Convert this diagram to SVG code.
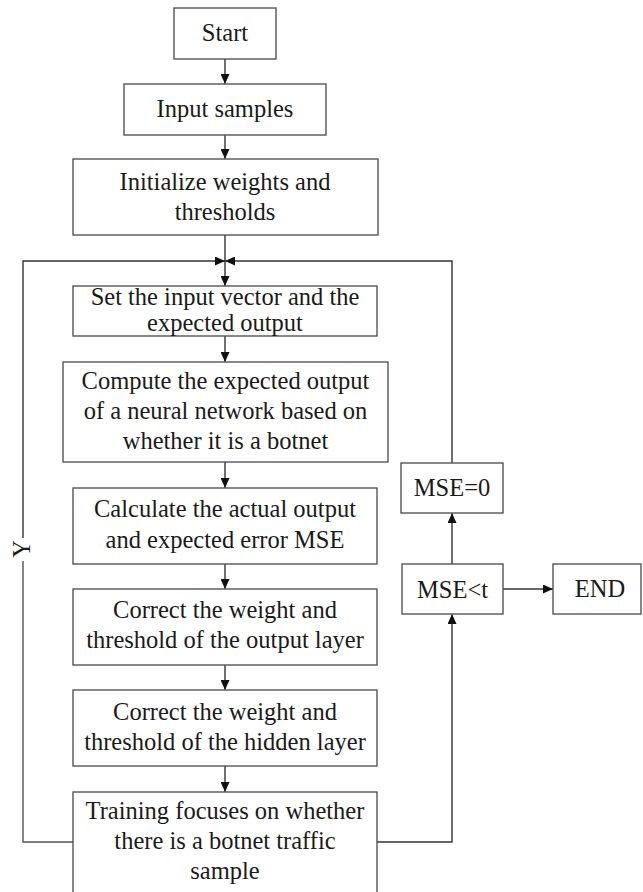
<svg xmlns="http://www.w3.org/2000/svg" width="643" height="892" viewBox="0 0 643 892">
<defs>
<marker id="ah" markerUnits="userSpaceOnUse" markerWidth="10" markerHeight="9" refX="10" refY="4.5" orient="auto">
<path d="M0,0 L10,4.5 L0,9 z" fill="#111"/>
</marker>
<style>
.box{fill:#fff;stroke:#555;stroke-width:1.4}
.t{font-family:"Liberation Serif","Times New Roman",serif;font-size:24.5px;fill:#1a1a1a;text-anchor:middle}
.c{fill:none;stroke:#555;stroke-width:1.4}
.a{fill:none;stroke:#333;stroke-width:1.4;marker-end:url(#ah)}
</style>
</defs>
<rect width="643" height="892" fill="#fff"/>
<g id="connectors">
<line class="a" x1="225" y1="59" x2="225" y2="84"/>
<line class="a" x1="225" y1="135" x2="225" y2="159"/>
<line class="a" x1="225" y1="235" x2="225" y2="286"/>
<line class="a" x1="225" y1="336" x2="225" y2="362"/>
<line class="a" x1="225" y1="462" x2="225" y2="488"/>
<line class="a" x1="225" y1="564" x2="225" y2="589"/>
<line class="a" x1="225" y1="665" x2="225" y2="690"/>
<line class="a" x1="225" y1="766" x2="225" y2="792"/>
<polyline class="c" points="73,842 23,842 23,561"/>
<polyline class="a" points="23,538 23,261 225,261"/>
<polyline class="a" points="452,463 452,261 225,261"/>
<polyline class="a" points="377,842 452,842 452,614"/>
<line class="a" x1="452" y1="564" x2="452" y2="513"/>
<line class="a" x1="503" y1="589" x2="553" y2="589"/>
<text class="t" transform="translate(30,549) rotate(-90)">Y</text>
</g>
<g id="start"><rect class="box" x="174" y="8" width="102" height="51"/><text class="t" x="225" y="41">Start</text></g>
<g id="input"><rect class="box" x="124" y="84" width="202" height="51"/><text class="t" x="225" y="117">Input samples</text></g>
<g id="init"><rect class="box" x="73" y="159" width="305" height="76"/><text class="t" x="225" y="190">Initialize weights and</text><text class="t" x="225" y="220">thresholds</text></g>
<g id="set"><rect class="box" x="73" y="286" width="304" height="50"/><text class="t" x="225" y="305">Set the input vector and the</text><text class="t" x="225" y="331">expected output</text></g>
<g id="compute"><rect class="box" x="63" y="362" width="325" height="100"/><text class="t" x="225.5" y="389">Compute the expected output</text><text class="t" x="225.5" y="419">of a neural network based on</text><text class="t" x="225.5" y="449">whether it is a botnet</text></g>
<g id="calc"><rect class="box" x="73" y="488" width="304" height="76"/><text class="t" x="225" y="517">Calculate the actual output</text><text class="t" x="225" y="548">and expected error MSE</text></g>
<g id="corr1"><rect class="box" x="73" y="589" width="304" height="76"/><text class="t" x="225" y="618">Correct the weight and</text><text class="t" x="225" y="648">threshold of the output layer</text></g>
<g id="corr2"><rect class="box" x="73" y="690" width="304" height="76"/><text class="t" x="225" y="720">Correct the weight and</text><text class="t" x="225" y="750">threshold of the hidden layer</text></g>
<g id="train"><rect class="box" x="73" y="792" width="304" height="112"/><text class="t" x="225" y="819">Training focuses on whether</text><text class="t" x="225" y="849">there is a botnet traffic</text><text class="t" x="225" y="879">sample</text></g>
<g id="mse0"><rect class="box" x="401" y="463" width="102" height="50"/><text class="t" x="452" y="496">MSE=0</text></g>
<g id="mset"><rect class="box" x="402" y="564" width="101" height="50"/><text class="t" x="452.5" y="598">MSE&lt;t</text></g>
<g id="end"><rect class="box" x="553" y="564" width="88" height="50"/><text class="t" x="600" y="597">END</text></g>
</svg>
